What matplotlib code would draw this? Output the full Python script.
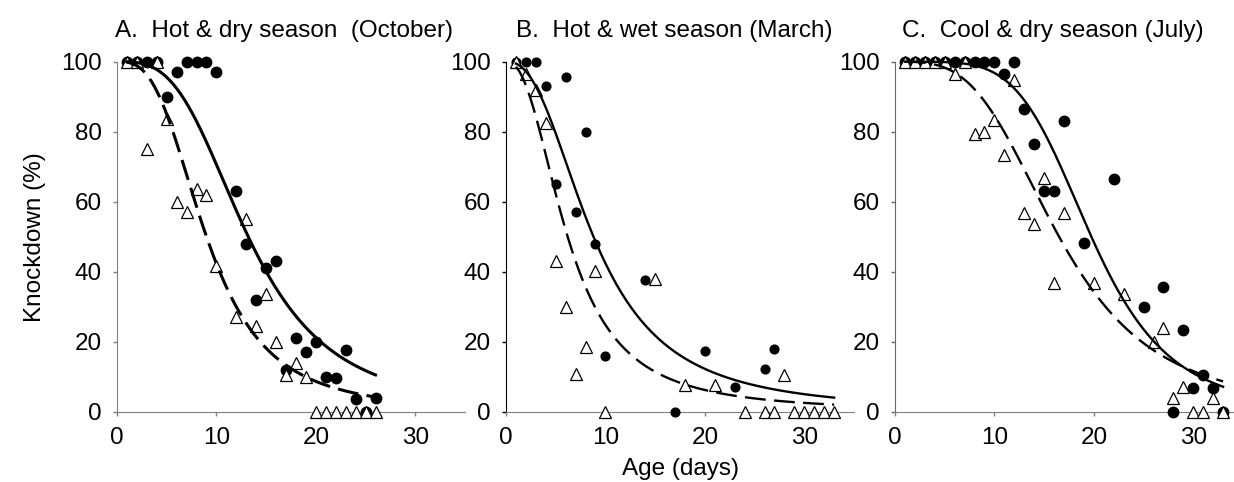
import numpy as np
import matplotlib
matplotlib.use('Agg')
import matplotlib.pyplot as plt

# A. hot & dry season (October)
a_circ_x = [1, 2, 3, 4, 5, 6, 7, 8, 9, 10, 12, 13, 14, 15, 16, 17, 18, 19, 20, 21, 22, 23, 24, 25, 26]
a_circ_y = [100, 100, 100, 100, 90, 97, 100, 100, 100, 97, 63, 48, 32, 41, 43, 12, 21, 17, 20, 10, 9.5, 17.5, 3.5, 0, 4]
a_tri_x = [1, 2, 3, 4, 5, 6, 7, 8, 9, 10, 12, 13, 14, 15, 16, 17, 18, 19, 20, 21, 22, 23, 24, 25, 26]
a_tri_y = [100, 100, 75, 100, 83.5, 60, 57, 63.5, 62, 41.5, 27, 55, 24.5, 33.5, 20, 10.5, 14, 10, 0, 0, 0, 0, 0, 0, 0]

# B. hot & wet season (March)
b_circ_x = [1, 2, 3, 4, 5, 6, 7, 8, 9, 10, 14, 17, 20, 23, 26, 27]
b_circ_y = [100, 100, 100, 93, 65, 95.5, 57, 80, 48, 16, 37.5, 0, 17.3, 7, 12.2, 18]
b_tri_x = [1, 2, 3, 4, 5, 6, 7, 8, 9, 10, 15, 18, 21, 24, 26, 27, 28, 29, 30, 31, 32, 33]
b_tri_y = [100, 96.5, 92, 82.5, 43, 30, 10.8, 18.4, 40.3, 0, 37.8, 7.6, 7.6, 0, 0, 0, 10.5, 0, 0, 0, 0, 0]

# C. cool & dry season (July)
c_circ_x = [1, 2, 3, 4, 5, 6, 7, 8, 9, 10, 11, 12, 13, 14, 15, 16, 17, 19, 22, 25, 27, 28, 29, 30, 31, 32, 33]
c_circ_y = [100, 100, 100, 100, 100, 100, 100, 100, 100, 100, 96.4, 100, 86.4, 76.4, 63.1, 63.1, 83.1, 48.1, 66.4, 30, 35.7, 0, 23.3, 6.7, 10.5, 6.7, 0]
c_tri_x = [1, 2, 3, 4, 5, 6, 7, 8, 9, 10, 11, 12, 13, 14, 15, 16, 17, 20, 23, 26, 27, 28, 29, 30, 31, 32, 33]
c_tri_y = [100, 100, 100, 100, 100, 96.4, 100, 79.3, 80, 83.3, 73.3, 94.8, 56.9, 53.6, 66.9, 36.9, 56.9, 36.9, 33.5, 20, 23.8, 3.8, 7, 0, 0, 3.8, 0]

# fitted log-logistic curves: age at 50% knockdown, slope, last day
solid_x50 = [13.2, 8.8, 19.75]
solid_b = [3.16, 2.4, 5.0]
dash_x50 = [9.0, 6.2, 16.5]
dash_b = [2.95, 2.32, 3.4]
fit_end = [26, 33, 33]

titles = ['A.  Hot & dry season  (October)', 'B.  Hot & wet season (March)', 'C.  Cool & dry season (July)']

plt.rcParams['font.family'] = ['Liberation Sans', 'DejaVu Sans']
plt.rcParams['font.size'] = 17.5

W, H = 1234.0, 482.0
fig = plt.figure(figsize=(W / 100, H / 100), dpi=100)

lefts = [117, 506, 895]
title_x = [115, 516, 902]
left_col = ['gray', 'black', 'dimgray']
circ_ms = [7.5, 6.3, 7.5]
lw = [2.2, 1.7, 1.7]

circ_x = [a_circ_x, b_circ_x, c_circ_x]
circ_y = [a_circ_y, b_circ_y, c_circ_y]
tri_x = [a_tri_x, b_tri_x, c_tri_x]
tri_y = [a_tri_y, b_tri_y, c_tri_y]

for i in range(3):
    ax = fig.add_axes([lefts[i] / W, (H - 411.7) / H, 348 / W, 350 / H])
    ax.set_xlim(0, 35)
    ax.set_ylim(0, 100)
    ax.set_xticks([0, 10, 20, 30])
    ax.set_yticks([0, 20, 40, 60, 80, 100])
    ax.spines['top'].set_visible(False)
    ax.spines['right'].set_visible(False)
    ax.spines['bottom'].set_color('gray')
    ax.spines['left'].set_color(left_col[i])
    ax.tick_params(direction='out', length=3, width=1, color='gray', pad=8)
    ax.tick_params(axis='y', color=left_col[i])

    #点
    ax.plot(circ_x[i], circ_y[i], 'o', color='black', ms=circ_ms[i], clip_on=False, zorder=3)
    ax.plot(tri_x[i], tri_y[i], '^', mfc='white', mec='black', mew=0.9, ms=8, clip_on=False, zorder=4)

    #拟合曲线
    x = np.linspace(1, fit_end[i], 200)
    ax.plot(x, 100 / (1 + (x / solid_x50[i]) ** solid_b[i]), color='black', lw=lw[i], zorder=5, clip_on=False)
    ax.plot(x, 100 / (1 + (x / dash_x50[i]) ** dash_b[i]), color='black', lw=lw[i],
            ls=(0, (15 / lw[i], 6 / lw[i])), zorder=5, clip_on=False)

    fig.text(title_x[i] / W, (H - 37) / H, titles[i], ha='left', va='baseline')

fig.text(35 / W, (H - 236.7) / H, 'Knockdown (%)', rotation=90, ha='center', va='center')
fig.text(681 / W, (H - 475) / H, 'Age (days)', ha='center', va='baseline')

plt.savefig('out.png', dpi=100)
plt.close('all')
